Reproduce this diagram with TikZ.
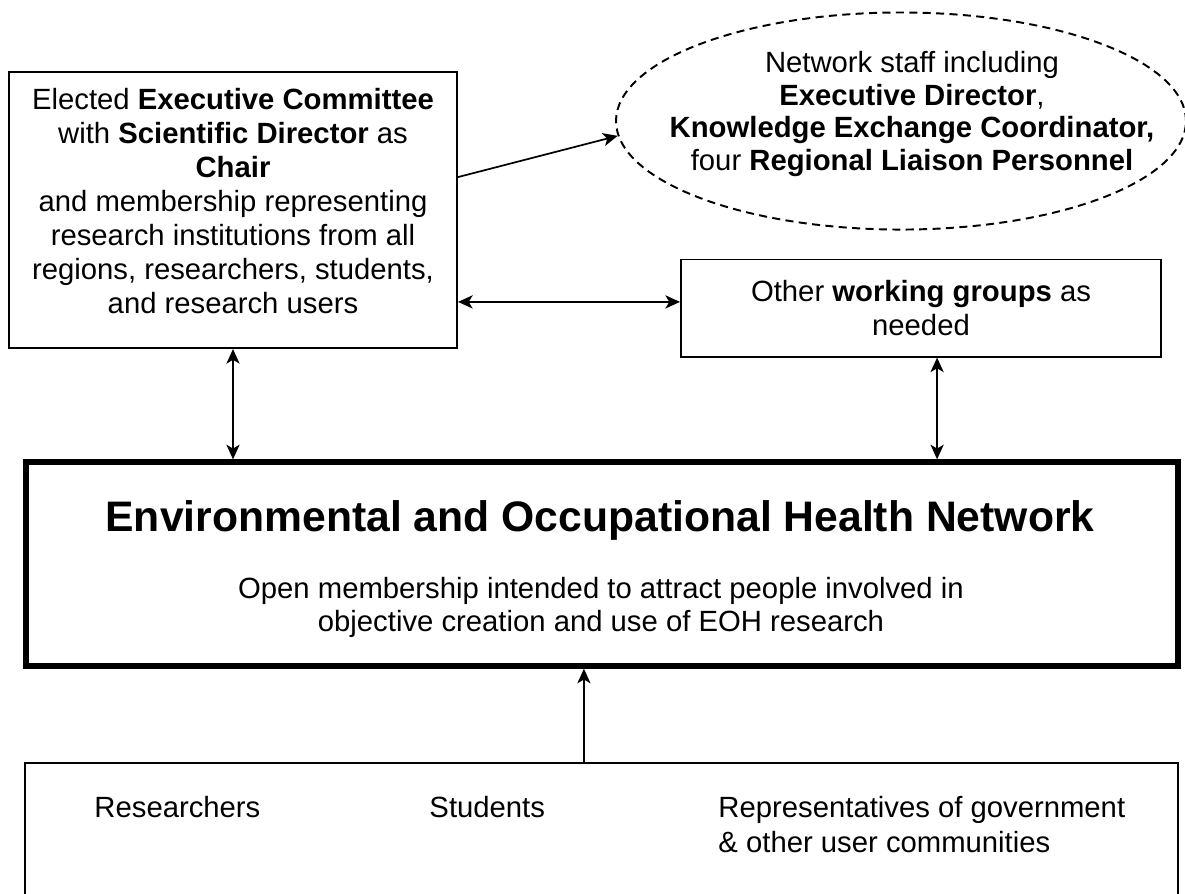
\documentclass[tikz,border=0pt]{standalone}
\usepackage{fontspec}
\setmainfont{Liberation Sans}
\usepackage{tikz}
\usetikzlibrary{arrows.meta}
\usetikzlibrary{shapes.geometric}

\begin{document}
\begin{tikzpicture}[x=0.41pt,y=-0.41pt,>={Stealth[length=6pt,width=5.4pt,inset=1.6pt]},
        every node/.style={font=\fontsize{12pt}{14pt}\selectfont},
        box/.style={draw,line width=0.8pt,inner sep=0pt},
        link/.style={line width=0.7pt}]
        \useasboundingbox (0,0) rectangle (1185,893);
        % committee and staff
        \node[box,minimum width=183.7pt,minimum height=113.2pt] (exec) at (233,210) {};
        \node[align=center] (exectext) at (233,201) {Elected \textbf{Executive Committee}\\ with \textbf{Scientific Director} as\\ \textbf{Chair}\\ and membership representing\\ research institutions from all\\ regions, researchers, students,\\ and research users};
        \node[box,dash pattern=on 3.3pt off 2.2pt,ellipse,minimum width=233.7pt,minimum height=89pt] (staff) at (901,121) {};
        \node[align=center,font=\fontsize{12pt}{13.4pt}\selectfont] (stafftext) at (912,114) {Network staff including\\ \textbf{Executive Director},\\ \textbf{Knowledge Exchange Coordinator,}\\ four \textbf{Regional Liaison Personnel}};
        \node[box,minimum width=196.8pt,minimum height=39.8pt,align=center] (groups) at (921,308) {Other \textbf{working groups} as\\ needed};
        % the network itself
        \node[box,line width=2.25pt,minimum width=472.3pt,minimum height=83.6pt] (net) at (602,564) {};
        \node[font=\fontsize{17.5pt}{21pt}\selectfont\bfseries] (nettitle) at (600,520) {Environmental and Occupational Health Network};
        \node[align=center,font=\fontsize{12pt}{13.5pt}\selectfont] (nettext) at (601,607) {Open membership intended to attract people involved in\\ objective creation and use of EOH research};
        % members
        \node[box,minimum width=472.7pt,minimum height=77.9pt] (members) at (601.5,858) {};
        \node[anchor=west,inner sep=0pt] (res) at (94,807) {Researchers};
        \node[anchor=west,inner sep=0pt] (stud) at (429,807) {Students};
        \node[anchor=west,inner sep=0pt,align=left] (users) at (718,824.5) {Representatives of government\\ \& other user communities};
        % links
        \draw[link,->] ([yshift=13.5pt]exec.east) -- (staff.183);
        \draw[link,<->] ([yshift=2.5pt]exec.east |- groups.west) -- ([yshift=2.5pt]groups.west);
        \draw[link,<->] (exec.south) -- (exec.south |- net.north);
        \draw[link,<->] ([xshift=6.6pt]groups.south) -- ([xshift=6.6pt]groups.south |- net.north);
        \draw[link,->] ([xshift=-7.2pt]members.north) -- ([xshift=-7.2pt]members.north |- net.south);
\end{tikzpicture}
\end{document}
